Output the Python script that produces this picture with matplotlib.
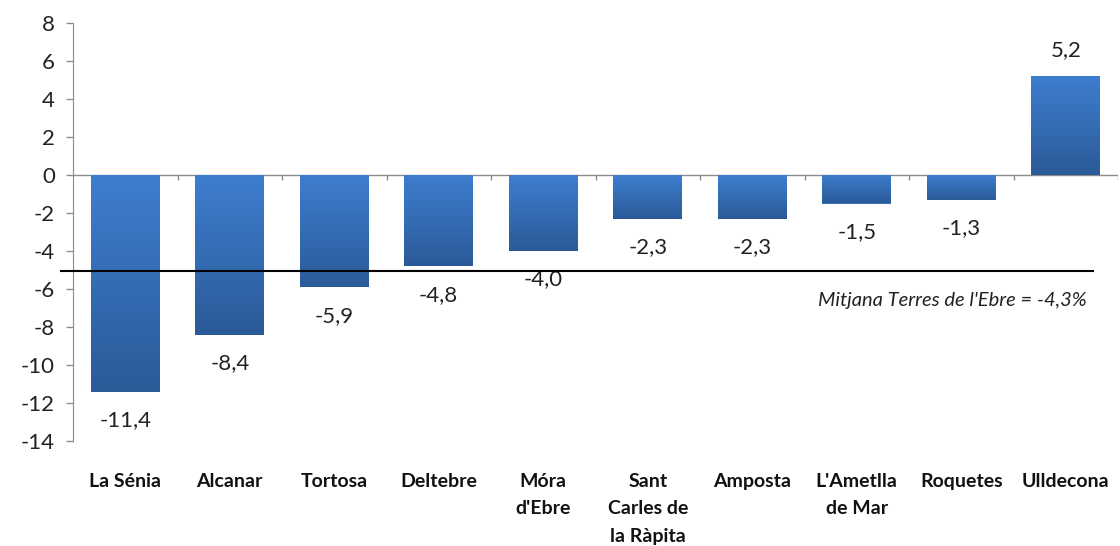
import numpy as np
import matplotlib.pyplot as plt
from matplotlib.colors import LinearSegmentedColormap

# dades
municipis = ["La Sénia", "Alcanar", "Tortosa", "Deltebre", "Móra\nd'Ebre",
             "Sant\nCarles de\nla Ràpita", "Amposta", "L'Ametlla\nde Mar",
             "Roquetes", "Ulldecona"]
variacio = [-11.4, -8.4, -5.9, -4.8, -4.0, -2.3, -2.3, -1.5, -1.3, 5.2]
etiquetes = ["-11,4", "-8,4", "-5,9", "-4,8", "-4,0", "-2,3", "-2,3", "-1,5", "-1,3", "5,2"]
linia_mitjana = -5.05
text_mitjana = "Mitjana Terres de l'Ebre = -4,3%"
yticks = list(range(-14, 9, 2))

plt.rcParams['font.family'] = ['Lato', 'DejaVu Sans']

fig = plt.figure(figsize=(11.2, 5.46), dpi=100)
ax = fig.add_axes([73/1120, 1 - 441/546, (1118 - 73)/1120, (441 - 23)/546])

x = np.arange(len(municipis))
barres = ax.bar(x, variacio, width=0.66, color='#3670b8', zorder=2)

# degradat a cada barra
cmap = LinearSegmentedColormap.from_list('blau', ['#2b5a98', '#3e7ecf'])
grad = np.linspace(0, 1, 256).reshape(-1, 1)
for b in barres:
    x0, y0 = b.get_x(), b.get_y()
    w, h = b.get_width(), b.get_height()
    ylo, yhi = min(y0, y0 + h), max(y0, y0 + h)
    im = ax.imshow(grad, cmap=cmap, aspect='auto', origin='lower',
                   extent=[x0, x0 + w, ylo, yhi], zorder=3)
    im.set_clip_path(b)

# etiquetes de valor
for xi, v, t in zip(x, variacio, etiquetes):
    if v < 0:
        ax.text(xi, v - 1.5, t, ha='center', va='center', fontsize=16, color='#222222')
    else:
        ax.text(xi, v + 1.4, t, ha='center', va='center', fontsize=16, color='#222222')

# línia zero i marques entre categories
ax.axhline(0, color='#8c8c8c', lw=1, zorder=1)
limits = np.arange(len(municipis) + 1) - 0.5
ax.vlines(limits[1:], -0.28, 0, color='#8c8c8c', lw=1, zorder=1)

# línia de la mitjana
ax.plot([-0.615, 9.26], [linia_mitjana, linia_mitjana], color='black', lw=1.5,
        clip_on=False, zorder=4)
ax.text(9.2, -6.6, text_mitjana, ha='right', va='center', fontsize=14.5,
        style='italic', color='#222222')

ax.set_xlim(-0.5, len(municipis) - 0.5)
ax.set_ylim(-14, 8)
ax.set_yticks(yticks)
ax.set_yticklabels([str(v) for v in yticks], fontsize=16, color='#222222')
ax.set_xticks(x)
ax.set_xticklabels(municipis, fontsize=14, fontweight='bold', color='#111111',
                   va='top', linespacing=1.75)
ax.tick_params(axis='x', length=0, pad=23)
ax.tick_params(axis='y', length=5, color='#8c8c8c', width=1, pad=8)

for s in ['top', 'right', 'bottom']:
    ax.spines[s].set_visible(False)
ax.spines['left'].set_color('#8c8c8c')

fig.savefig('out.png', dpi=100)
